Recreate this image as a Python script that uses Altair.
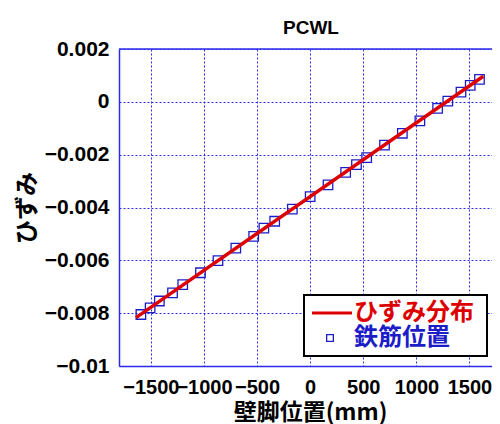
import altair as alt
import pandas as pd

# Rebar positions (mm) and measured strain
rebar_x = [-1594, -1507, -1420, -1296, -1200, -1033, -868, -700, -532, -436, -334, -168, 0,
           168, 334, 436, 532, 700, 868, 1033, 1200, 1296, 1420, 1507, 1594]
rebar_strain = [-0.00805, -0.00780, -0.00754, -0.00723, -0.00692, -0.00647, -0.00601, -0.00554,
                -0.00509, -0.00478, -0.00452, -0.00406, -0.00359, -0.00314, -0.00267, -0.00238,
                -0.00211, -0.00164, -0.00119, -0.00072, -0.00025, 0.00003, 0.00037, 0.00062, 0.00085]

# Strain distribution line (end points)
line_x = [-1640, 1630]
line_strain = [-0.00817, 0.00097]

x_ticks = [-1500, -1000, -500, 0, 500, 1000, 1500]
y_ticks = [0.002, 0, -0.002, -0.004, -0.006, -0.008, -0.01]

chart_title = "PCWL"
legend_labels = ["ひずみ分布", "鉄筋位置"]

RED = "#dd0000"
BLUE = "#1c1cc8"
GRID = "#2a2aee"
FONT = "Liberation Sans, Noto Sans CJK JP"
CJK = "Noto Sans CJK JP"

pts = pd.DataFrame({"x": rebar_x, "y": rebar_strain})
ln = pd.DataFrame({"x": line_x, "y": line_strain})

# plot continues past the right edge of the picture, as in the reference
xscale = alt.Scale(domain=[-1800, 1712], nice=False, zero=False)
yscale = alt.Scale(domain=[-0.01, 0.002], nice=False, zero=False)

xaxis = alt.Axis(values=x_ticks, title="壁脚位置(mm)", format="d", labelFontSize=20,
                 labelFontWeight="bold", labelFont=FONT, labelColor="black", labelPadding=11,
                 titleFont=CJK, titleFontSize=23, titleFontWeight="bold", titleColor="black",
                 titlePadding=4, titleX=191, titleAnchor="middle", ticks=False,
                 domainColor=GRID, domainWidth=1.5,
                 grid=True, gridColor=GRID, gridDash=[2, 2], gridWidth=1, gridOpacity=1,
                 labelFlush=False, labelOverlap=False)
yaxis = alt.Axis(values=y_ticks, title="ひずみ", labelExpr="datum.value == 0 ? '0' : format(datum.value, '.3~f')",
                 labelFontSize=21, labelFontWeight="bold", labelFont=FONT, labelColor="black",
                 labelPadding=10, titleFont=CJK, titleFontSize=24, titleFontWeight="bold",
                 titleColor="black", titlePadding=5, ticks=False, domainColor=GRID, domainWidth=1.5,
                 grid=True, gridColor=GRID, gridDash=[2, 2], gridWidth=1, gridOpacity=1,
                 labelFlush=False, labelOverlap=False)

points = alt.Chart(pts).mark_point(shape="square", filled=False, size=90, strokeWidth=1.3,
                                   color=BLUE, opacity=1).encode(
    x=alt.X("x:Q", scale=xscale, axis=xaxis),
    y=alt.Y("y:Q", scale=yscale, axis=yaxis),
)

line = alt.Chart(ln).mark_line(color=RED, strokeWidth=3.5).encode(
    x=alt.X("x:Q", scale=xscale),
    y=alt.Y("y:Q", scale=yscale),
)

one = pd.DataFrame({"k": [0]})
title_mark = alt.Chart(one).mark_text(align="center", baseline="alphabetic", font=FONT, fontSize=19,
                                      fontWeight="bold", color="black").encode(
    x=alt.value(192), y=alt.value(-15), text=alt.value(chart_title))
# top frame line
top_frame = alt.Chart(one).mark_rule(color=GRID, strokeWidth=1.5).encode(
    x=alt.value(0), x2=alt.value(373), y=alt.value(0))
# Legend box (decoration)
box = alt.Chart(one).mark_rect(fill="white", stroke="black", strokeWidth=2).encode(
    x=alt.value(185), x2=alt.value(368), y=alt.value(246), y2=alt.value(307))
leg_line = alt.Chart(one).mark_rule(color=RED, strokeWidth=3).encode(
    x=alt.value(193), x2=alt.value(233), y=alt.value(264))
leg_sq = alt.Chart(one).mark_point(shape="square", filled=False, size=45, strokeWidth=1.3,
                                   color=BLUE, opacity=1).encode(x=alt.value(211), y=alt.value(289))
leg_t1 = alt.Chart(one).mark_text(align="left", baseline="middle", font=CJK, fontSize=24,
                                  fontWeight="bold", color=RED).encode(
    x=alt.value(235), y=alt.value(264), text=alt.value(legend_labels[0]))
leg_t2 = alt.Chart(one).mark_text(align="left", baseline="middle", font=CJK, fontSize=24,
                                  fontWeight="bold", color=BLUE).encode(
    x=alt.value(235), y=alt.value(289), text=alt.value(legend_labels[1]))

chart = alt.layer(points, line, top_frame, box, leg_line, leg_sq, leg_t1, leg_t2, title_mark).properties(
    width=373, height=317,
    autosize=alt.AutoSizeParams(type="none"),
    padding={"left": 111, "top": 41, "right": 0, "bottom": 58},
).configure_view(stroke=None)

chart.save("out.html", embed_options={"renderer": "svg", "actions": False})
